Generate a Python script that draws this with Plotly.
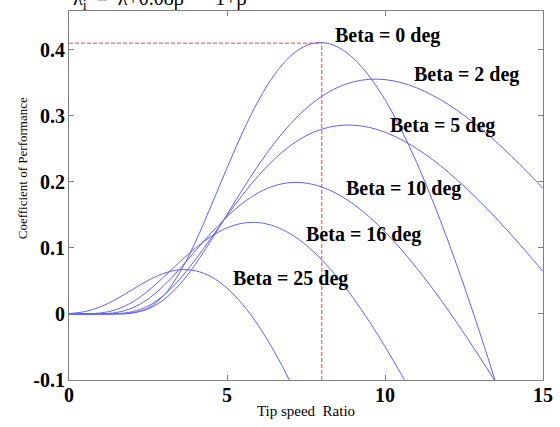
import plotly.graph_objects as go

# ---------------- data ----------------
tsr = [0, 0.5, 1, 1.5, 2, 2.5, 3, 3.5, 4, 4.5, 5, 5.5, 6, 6.5, 7, 7.5,
       8, 8.5, 9, 9.5, 10, 10.5, 11, 11.5, 12, 12.5, 13, 13.5, 14, 14.5, 15]

cp_beta0 = [0, 0, 0, 0.0001, 0.0014, 0.0088, 0.0282, 0.0623, 0.109, 0.164,
            0.221, 0.2756, 0.3235, 0.3621, 0.390, 0.4063, 0.4109, 0.4044,
            0.3871, 0.3601, 0.3244, 0.2805, 0.2296, 0.1724, 0.1099, 0.0428,
            -0.0284, -0.1030, -0.180]
cp_beta2 = [0, 0, 0, 0.0001, 0.0015, 0.0076, 0.0215, 0.0445, 0.0754, 0.1116,
            0.1504, 0.1891, 0.2257, 0.2588, 0.2874, 0.3110, 0.3295, 0.3429,
            0.3514, 0.3553, 0.3548, 0.3504, 0.3424, 0.3312, 0.3173, 0.3008,
            0.2820, 0.2613, 0.2390, 0.2152, 0.1902]
cp_beta5 = [0, 0, 0, 0.0004, 0.0033, 0.0119, 0.0283, 0.0524, 0.0823, 0.1152,
            0.1488, 0.1807, 0.2096, 0.2344, 0.2546, 0.2697, 0.2798, 0.2851,
            0.2859, 0.2825, 0.2752, 0.2644, 0.2505, 0.2339, 0.2148, 0.1935,
            0.1705, 0.1458, 0.1197, 0.0925, 0.0643]
cp_beta10 = [0, 0, 0.0002, 0.0022, 0.0090, 0.0225, 0.0429, 0.0680, 0.0955,
             0.1226, 0.1472, 0.1679, 0.1837, 0.1941, 0.1989, 0.1981, 0.1922,
             0.1815, 0.1663, 0.1471, 0.1243, 0.0984, 0.0698, 0.0387, 0.0057,
             -0.0291, -0.0654, -0.1028, -0.1412]
cp_beta16 = [0, 0.0001, 0.0015, 0.0067, 0.0178, 0.0349, 0.0560, 0.0785,
             0.0997, 0.1175, 0.1303, 0.1374, 0.1383, 0.1329, 0.1215, 0.1044,
             0.0820, 0.0549, 0.0237, -0.0112, -0.0494, -0.0902, -0.1334]
cp_beta25 = [0.0006, 0.0035, 0.0108, 0.0225, 0.0367, 0.0507, 0.0615, 0.0669,
             0.0654, 0.0563, 0.0391, 0.0142, -0.0181, -0.0572, -0.1024, -0.1529]

curve_labels = ["Beta = 0 deg", "Beta = 2 deg", "Beta = 5 deg",
                "Beta = 10 deg", "Beta = 16 deg", "Beta = 25 deg"]
curves = [cp_beta0, cp_beta2, cp_beta5, cp_beta10, cp_beta16, cp_beta25]

peak_tsr = 8.0
peak_cp = 0.41

x_ticks = [0, 5, 10, 15]
y_ticks = [-0.1, 0, 0.1, 0.2, 0.3, 0.4]
y_ticklabels = ["-0.1", "0", "0.1", "0.2", "0.3", "0.4"]

x_title = "Tip speed  Ratio"
y_title = "Coefficient of Performance"

# label anchor points (left edge, middle) in data units
label_pos = [(8.35, 0.422), (10.85, 0.362), (10.09, 0.286),
             (8.70, 0.190), (7.44, 0.121), (5.13, 0.054)]

# ---------------- figure ----------------
fig = go.Figure()

BLUE = "rgb(95,95,255)"
RED = "rgb(255,60,60)"

for name, cp in zip(curve_labels, curves):
    fig.add_trace(go.Scatter(
        x=tsr[:len(cp)], y=cp, mode="lines", name=name,
        line=dict(color=BLUE, width=1, shape="spline", smoothing=1.0),
        showlegend=False, hoverinfo="skip"))

# peak guide lines (red dashed)
fig.add_trace(go.Scatter(x=[0, peak_tsr], y=[peak_cp, peak_cp], mode="lines",
                         line=dict(color=RED, width=1, dash="4px,2px"),
                         showlegend=False, hoverinfo="skip"))
fig.add_trace(go.Scatter(x=[peak_tsr, peak_tsr], y=[-0.1, peak_cp], mode="lines",
                         line=dict(color=RED, width=1, dash="4px,2px"),
                         showlegend=False, hoverinfo="skip"))

SERIF = "Liberation Serif, Times New Roman, serif"

for text, (lx, ly) in zip(curve_labels, label_pos):
    fig.add_annotation(x=lx, y=ly, xref="x", yref="y", text=text,
                       showarrow=False, xanchor="left", yanchor="middle",
                       font=dict(family=SERIF, size=20, color="black", weight="bold"))

# partially visible formula at the very top of the picture
fig.add_annotation(x=0.005, y=0.99, xref="paper", yref="paper",
                   text="λ<sub>i</sub>&nbsp; =&nbsp; λ+0.08β&nbsp; −&nbsp; 1+β<sup>3</sup>",
                   showarrow=False, xanchor="left", yanchor="bottom",
                   font=dict(family=SERIF, size=20, color="black"))

# y-axis title (placed a little above the axis centre, as in the reference)
fig.add_annotation(x=-0.099, y=0.574, xref="paper", yref="paper",
                   text=y_title, textangle=-90, showarrow=False,
                   xanchor="center", yanchor="middle",
                   font=dict(family=SERIF, size=13, color="black"))

axis_common = dict(showline=True, linecolor="rgb(128,128,128)", linewidth=1,
                   mirror="ticks", ticks="inside", ticklen=5,
                   tickcolor="rgb(128,128,128)", tickwidth=1,
                   showgrid=False, zeroline=False, automargin=False,
                   tickfont=dict(family=SERIF, size=20, color="black", weight="bold"))

fig.update_xaxes(range=[0, 15], tickvals=x_ticks, ticktext=[str(v) for v in x_ticks],
                 ticklabelstandoff=-3,
                 title=dict(text=x_title,
                            font=dict(family=SERIF, size=15, color="black"),
                            standoff=0),
                 **axis_common)
fig.update_yaxes(range=[-0.1, 0.4587], tickvals=y_ticks, ticktext=y_ticklabels,
                 ticklabelstandoff=-1,
                 **axis_common)

fig.update_layout(width=560, height=427,
                  margin=dict(l=69, r=17, t=11, b=47, autoexpand=False),
                  paper_bgcolor="white", plot_bgcolor="white")

fig.write_html("out.html", config={"displayModeBar": False},
               post_script="document.body.style.margin='0';document.body.style.padding='0';")
